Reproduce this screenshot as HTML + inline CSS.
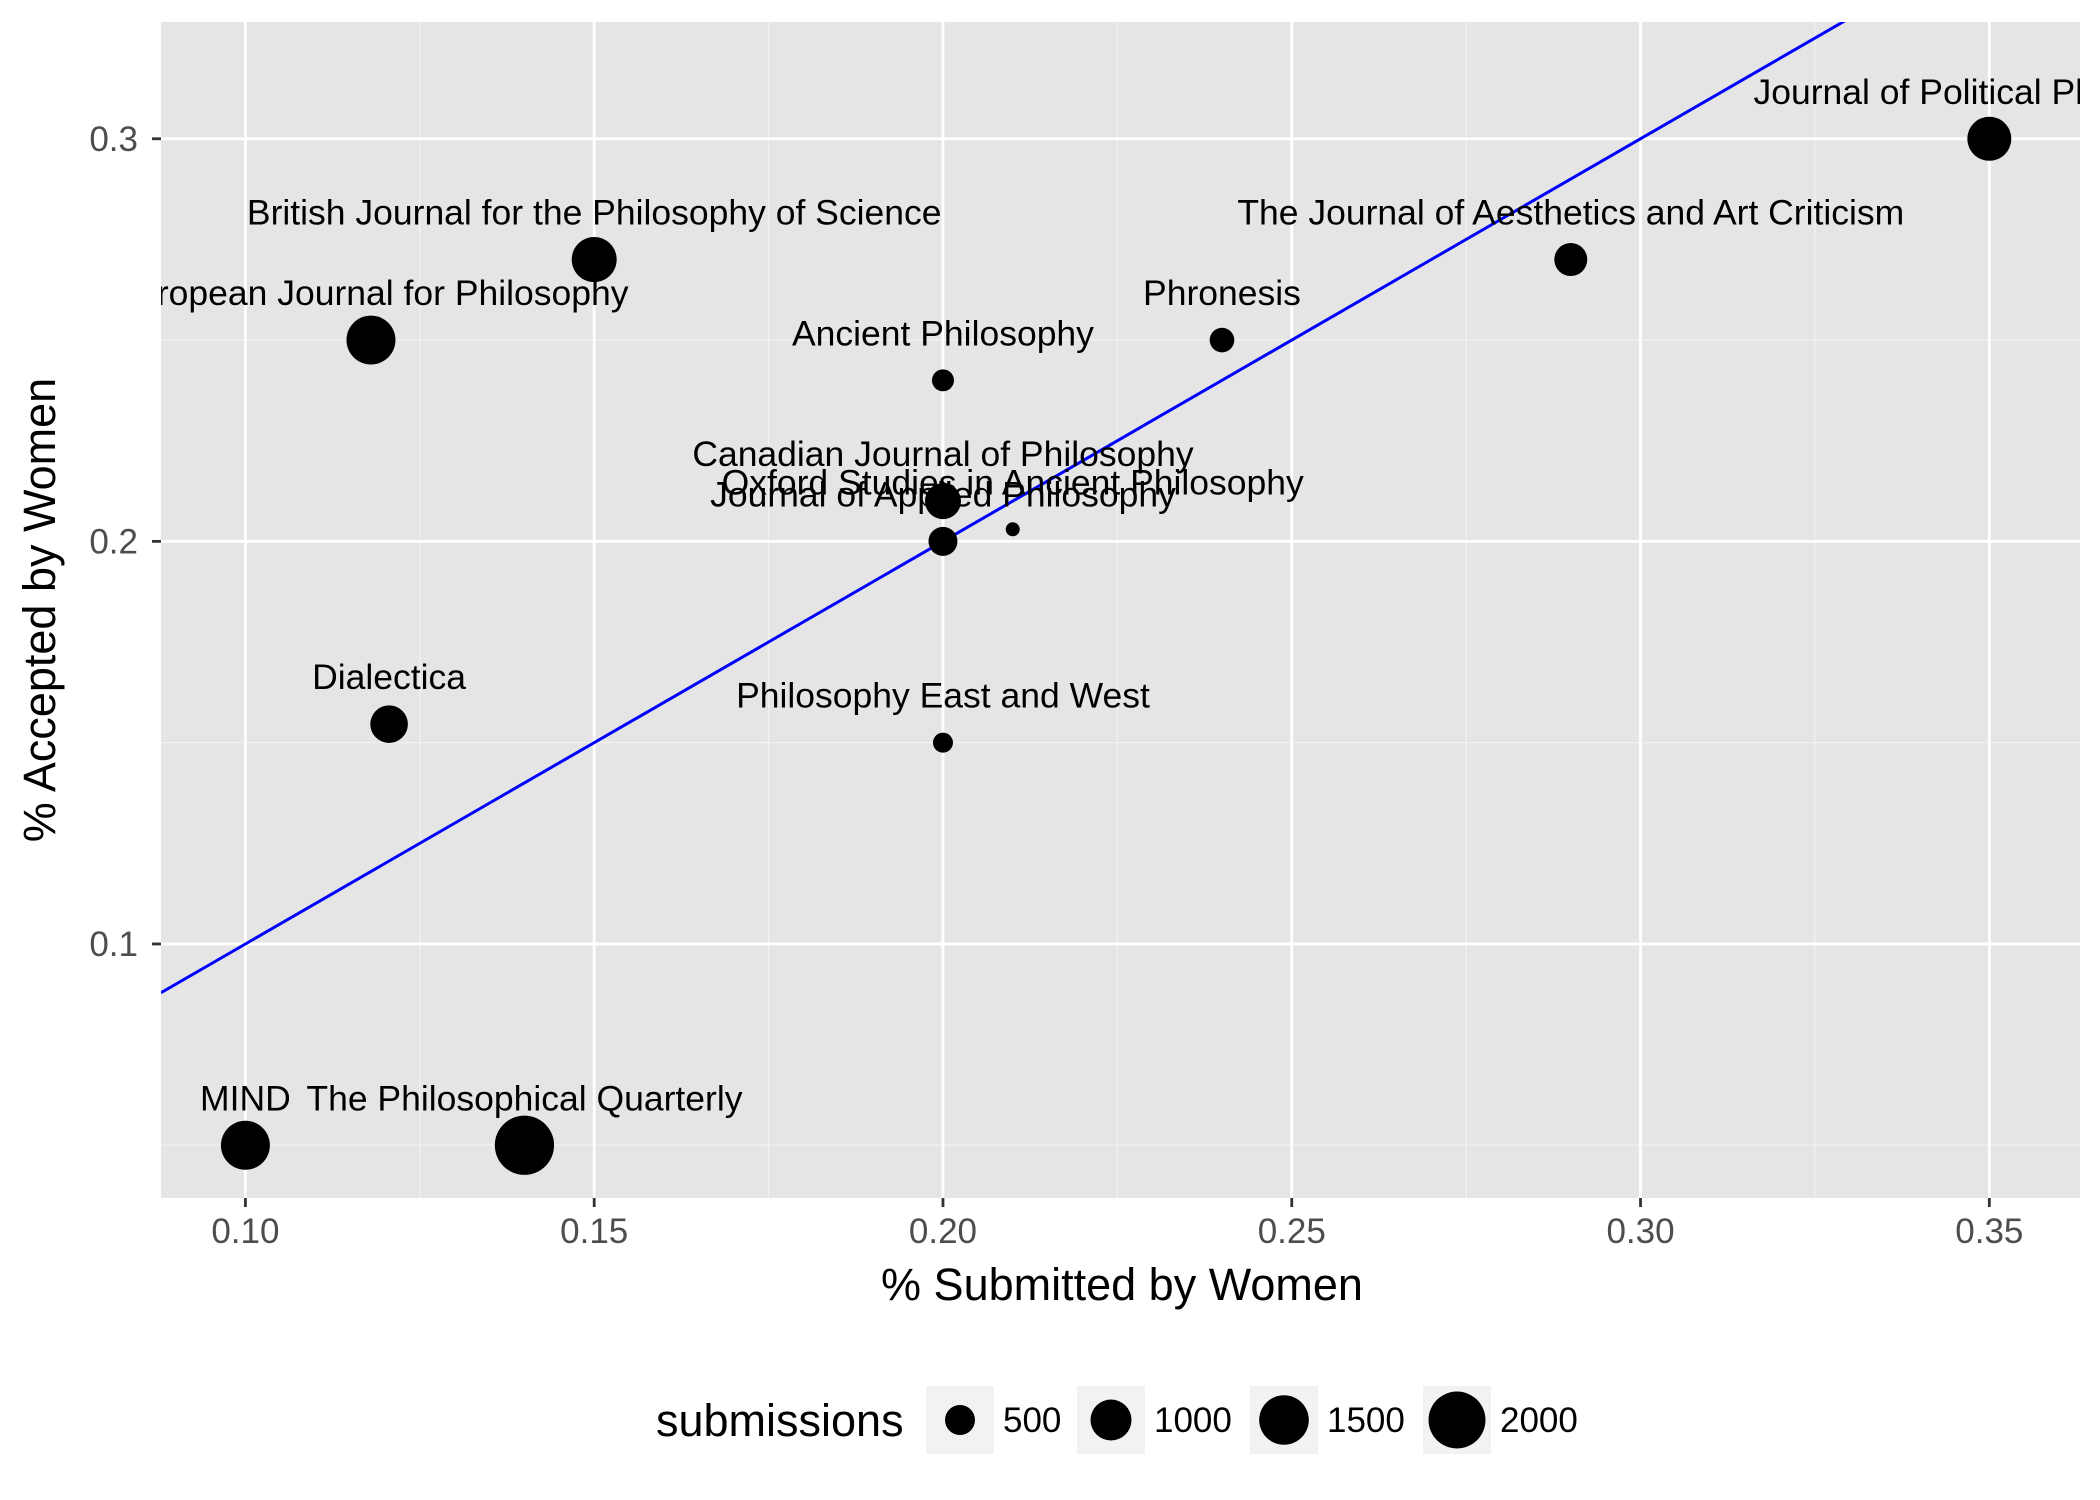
<!DOCTYPE html>
<html><head><meta charset="utf-8"><style>
html,body{margin:0;padding:0;background:#fff;}
svg{display:block;font-family:"Liberation Sans",Arial,sans-serif;}
</style></head><body>
<svg id="chart" width="2100" height="1500" viewBox="0 0 2100 1500">
<defs><clipPath id="panelClip"><rect x="161" y="22" width="1919" height="1176"/></clipPath></defs>
<rect x="161" y="22" width="1919" height="1176" fill="#e5e5e5"/>
<g id="grid"></g>
<g id="marks" clip-path="url(#panelClip)"></g>
<g id="axes"></g>
<text x="1122" y="1300" text-anchor="middle" font-size="45" fill="#000">% Submitted by Women</text>
<text transform="translate(55,610) rotate(-90)" text-anchor="middle" font-size="45" fill="#000">% Accepted by Women</text>
<g id="legend"></g>
</svg>
<script>
const names = ["MIND","The Philosophical Quarterly","European Journal for Philosophy","British Journal for the Philosophy of Science","Dialectica","Ancient Philosophy","Canadian Journal of Philosophy","Oxford Studies in Ancient Philosophy","Journal of Applied Philosophy","Philosophy East and West","Phronesis","The Journal of Aesthetics and Art Criticism","Journal of Political Philosophy"];
const submittedShare = [0.10,0.14,0.118,0.15,0.1206,0.20,0.20,0.21,0.20,0.20,0.24,0.29,0.35];
const acceptedShare = [0.05,0.05,0.25,0.27,0.1546,0.24,0.21,0.203,0.20,0.15,0.25,0.27,0.30];
const submissions = [1460,2170,1460,1220,830,235,755,51,463,182,313,622,1164];
const xTicks = [0.10,0.15,0.20,0.25,0.30,0.35];
const xTickLabels = ["0.10","0.15","0.20","0.25","0.30","0.35"];
const xMinor = [0.125,0.175,0.225,0.275,0.325];
const yTicks = [0.1,0.2,0.3];
const yTickLabels = ["0.1","0.2","0.3"];
const yMinor = [0.05,0.15,0.25];
const legendValues = [500,1000,1500,2000];
const fitIntercept = 0, fitSlope = 1;

const NS="http://www.w3.org/2000/svg";
const PL=161, PR=2080, PT=22, PB=1198;
const X0=0.0879, X1=0.3630, Y0=0.0369, Y1=0.329;
const sx=v=>PL+(v-X0)/(X1-X0)*(PR-PL);
const sy=v=>PB-(v-Y0)/(Y1-Y0)*(PB-PT);
const rad=n=>Math.sqrt(Math.max(4,29+0.391*n));
function mk(tag,attrs,parent){const e=document.createElementNS(NS,tag);for(const k in attrs)e.setAttribute(k,attrs[k]);parent.appendChild(e);return e;}
const grid=document.getElementById('grid'),marks=document.getElementById('marks'),axes=document.getElementById('axes'),legend=document.getElementById('legend');
xMinor.forEach(v=>{const l=mk('line',{x1:sx(v),x2:sx(v),y1:PT,y2:PB,stroke:'#f2f2f2','stroke-width':1.3},grid);

});
yMinor.forEach(v=>{const l=mk('line',{x1:PL,x2:PR,y1:sy(v),y2:sy(v),stroke:'#f2f2f2','stroke-width':1.3},grid);

});
xTicks.forEach((v,i)=>{const l=mk('line',{x1:sx(v),x2:sx(v),y1:PT,y2:PB,stroke:'#fff','stroke-width':2.8},grid);


const t=mk('line',{x1:sx(v),x2:sx(v),y1:PB,y2:PB+9,stroke:'#333','stroke-width':2.8},axes);


const tx=mk('text',{x:sx(v),y:1243,'text-anchor':'middle','font-size':35,fill:'#4d4d4d'},axes);tx.textContent=xTickLabels[i];

});
yTicks.forEach((v,i)=>{const l=mk('line',{x1:PL,x2:PR,y1:sy(v),y2:sy(v),stroke:'#fff','stroke-width':2.8},grid);


const t=mk('line',{x1:PL-9,x2:PL,y1:sy(v),y2:sy(v),stroke:'#333','stroke-width':2.8},axes);


const tx=mk('text',{x:138,y:sy(v)+12,'text-anchor':'end','font-size':35,fill:'#4d4d4d'},axes);tx.textContent=yTickLabels[i];

});
const fit=mk('line',{x1:sx(X0),y1:sy(fitIntercept+fitSlope*X0),x2:sx(X1),y2:sy(fitIntercept+fitSlope*X1),stroke:'#0000ff','stroke-width':3},marks);


names.forEach((n,i)=>{const c=mk('circle',{cx:sx(submittedShare[i]),cy:sy(acceptedShare[i]),r:rad(submissions[i]),fill:'#000'},marks);

});
names.forEach((n,i)=>{const t=mk('text',{x:sx(submittedShare[i]),y:sy(acceptedShare[i])-35,'text-anchor':'middle','font-size':35.5,fill:'#000'},marks);t.textContent=n;

});
const lt=mk('text',{x:656,y:1436,'font-size':45,fill:'#000'},legend);lt.textContent='submissions';


const keyX=[926,1077,1250,1423];
legendValues.forEach((v,i)=>{const g=mk('g',{},legend);


mk('rect',{x:keyX[i],y:1386,width:68,height:68,fill:'#f2f2f2'},g);
mk('circle',{cx:keyX[i]+34,cy:1420,r:rad(v),fill:'#000'},g);
const t=mk('text',{x:keyX[i]+77,y:1432,'font-size':35,fill:'#000'},g);t.textContent=String(v);});
</script>
</body></html>
